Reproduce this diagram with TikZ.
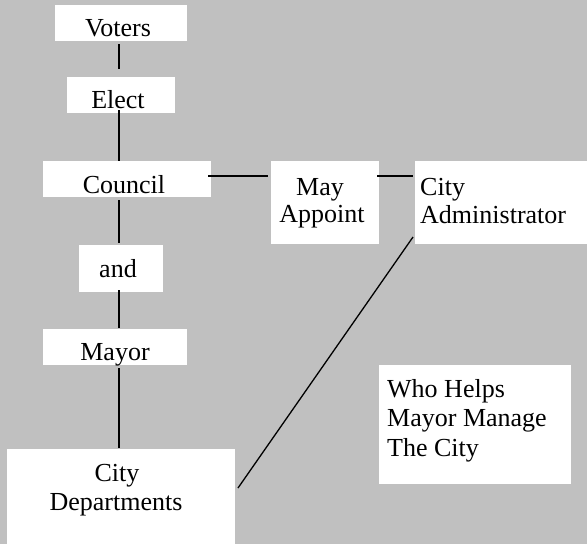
\documentclass[tikz,border=0pt]{standalone}
\usepackage{fontspec}
\setmainfont{Liberation Serif}
\definecolor{bg}{HTML}{C0C0C0}
\begin{document}
\begin{tikzpicture}[x=1pt,y=-1pt,
  box/.style={fill=white, draw=none, inner sep=0pt, outer sep=0pt, anchor=north west},
  txt/.style={inner sep=0pt, anchor=base, font=\fontsize{26}{30}\selectfont},
  ltxt/.style={txt, anchor=base west},
  conn/.style={line width=1.6pt},
  diag/.style={line width=1.3pt}]
\fill[bg] (0,0) rectangle (587,544);
\useasboundingbox (0,0) rectangle (587,544);
% boxes
\node[box, minimum width=132pt, minimum height=36pt] (voters) at (55,5) {};
\node[box, minimum width=108pt, minimum height=36pt] (elect) at (67,77) {};
\node[box, minimum width=168pt, minimum height=36pt] (council) at (43,161) {};
\node[box, minimum width=84pt, minimum height=47pt] (and) at (79,245) {};
\node[box, minimum width=144pt, minimum height=36pt] (mayor) at (43,329) {};
\node[box, minimum width=228pt, minimum height=95pt] (dept) at (7,449) {};
\node[box, minimum width=108pt, minimum height=83pt] (may) at (271,161) {};
\node[box, minimum width=172pt, minimum height=83pt] (admin) at (415,161) {};
\node[box, minimum width=192pt, minimum height=119pt] (who) at (379,365) {};
% texts
\node[txt] (voters-t) at (118,36) {Voters};
\node[txt] (elect-t) at (118,108) {Elect};
\node[txt] (council-t) at (124,193) {Council};
\node[txt] (and-t) at (118,277) {and};
\node[txt] (mayor-t) at (115,360) {Mayor};
\node[txt] (dept-t1) at (117,481) {City};
\node[txt] (dept-t2) at (116,510) {Departments};
\node[txt] (may-t1) at (320,195) {May};
\node[txt] (may-t2) at (322,222) {Appoint};
\node[ltxt] (admin-t1) at (420,195) {City};
\node[ltxt] (admin-t2) at (420,223) {Administrator};
\node[ltxt] (who-t1) at (387,397) {Who Helps};
\node[ltxt] (who-t2) at (387,426) {Mayor Manage};
\node[ltxt] (who-t3) at (387,456) {The City};
% connectors
\coordinate (spine) at (119,0);
\draw[conn, shorten <=3pt, shorten >=8pt] (spine |- voters.south) -- (spine |- elect.north);
\draw[conn, shorten <=-3pt] (spine |- elect.south) -- (spine |- council.north);
\draw[conn, shorten <=3pt, shorten >=2pt] (spine |- council.south) -- (spine |- and.north);
\draw[conn, shorten <=-2pt, shorten >=1pt] (spine |- and.south) -- (spine |- mayor.north);
\draw[conn, shorten <=3pt, shorten >=1pt] (spine |- mayor.south) -- (spine |- dept.north);
\coordinate (row) at (0,176);
\draw[conn, shorten <=-3pt, shorten >=3pt] (council.east |- row) -- (may.west |- row);
\draw[conn, shorten <=-2pt, shorten >=2pt] (may.east |- row) -- (admin.west |- row);
\draw[diag] ([shift={(-2,-7)}]admin.south west) -- ([shift={(3,39)}]dept.north east);
\end{tikzpicture}
\end{document}
